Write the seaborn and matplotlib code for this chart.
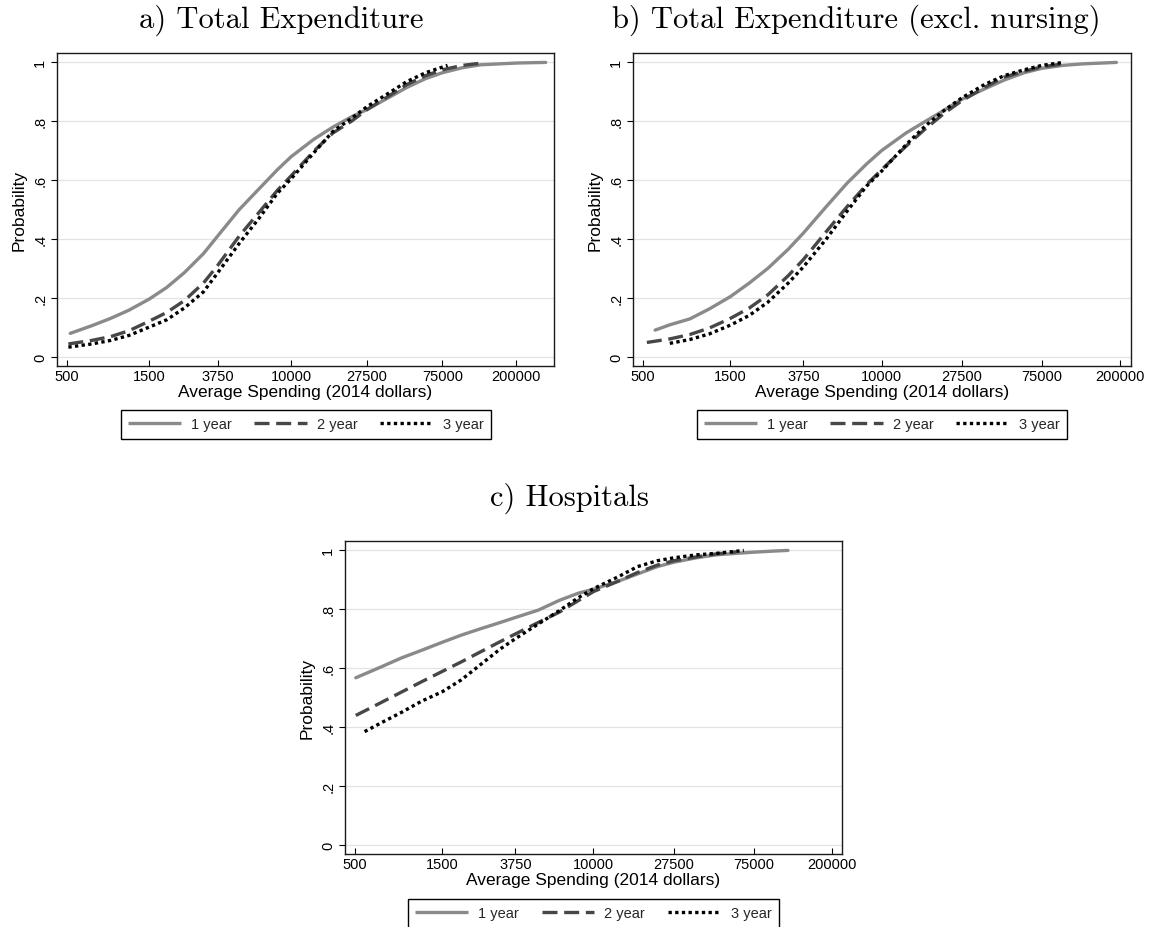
import numpy as np
import pandas as pd
import matplotlib
matplotlib.use("Agg")
import matplotlib.pyplot as plt
import seaborn as sns
from matplotlib.lines import Line2D
from matplotlib.ticker import NullLocator

# ---------------- data ----------------
SERIES = ["1 year", "2 year", "3 year"]
X_TICKS = [500, 1500, 3750, 10000, 27500, 75000, 200000]
X_TICK_LABELS = ["500", "1500", "3750", "10000", "27500", "75000", "200000"]
Y_TICKS = [0, 0.2, 0.4, 0.6, 0.8, 1.0]
Y_TICK_LABELS = ["0", ".2", ".4", ".6", ".8", "1"]

# a) Total Expenditure
A_X_1 = [525, 700, 900, 1150, 1500, 1900, 2400, 3100, 3750, 5000, 6500, 8300, 10000,
         13600, 17400, 22300, 27500, 36500, 46700, 60000, 75000, 98000, 125000, 205000, 297000]
A_Y_1 = [0.079, 0.105, 0.13, 0.158, 0.195, 0.235, 0.285, 0.35, 0.41, 0.50, 0.57, 0.635, 0.68,
         0.74, 0.78, 0.815, 0.84, 0.88, 0.915, 0.945, 0.965, 0.982, 0.992, 0.998, 1.0]
A_X_2 = [512, 700, 900, 1150, 1500, 1900, 2400, 3100, 3750, 5000, 6500, 8300, 10000,
         13600, 17400, 22300, 27500, 36500, 46700, 60000, 75000, 98000, 128000]
A_Y_2 = [0.043, 0.055, 0.068, 0.088, 0.12, 0.15, 0.19, 0.25, 0.31, 0.41, 0.49, 0.565, 0.615,
         0.70, 0.76, 0.80, 0.84, 0.885, 0.925, 0.955, 0.975, 0.99, 0.998]
A_X_3 = [512, 700, 900, 1150, 1500, 1900, 2400, 3100, 3750, 5000, 6500, 8300, 10000,
         13600, 17400, 22300, 27500, 36500, 46700, 60000, 80300]
A_Y_3 = [0.032, 0.043, 0.055, 0.072, 0.10, 0.125, 0.165, 0.22, 0.285, 0.385, 0.47, 0.555, 0.605,
         0.695, 0.765, 0.81, 0.85, 0.895, 0.935, 0.965, 0.99]

# b) Total Expenditure (excl. nursing)
B_X_1 = [582, 700, 900, 1150, 1500, 1900, 2400, 3100, 3750, 5000, 6500, 8300, 10000,
         13600, 17400, 22300, 27500, 36500, 46700, 60000, 75000, 98000, 125000, 191000]
B_Y_1 = [0.09, 0.108, 0.128, 0.162, 0.204, 0.25, 0.30, 0.365, 0.42, 0.51, 0.59, 0.655, 0.70,
         0.76, 0.80, 0.84, 0.875, 0.91, 0.94, 0.965, 0.98, 0.99, 0.995, 1.0]
B_X_2 = [525, 700, 900, 1150, 1500, 1900, 2400, 3100, 3750, 5000, 6500, 8300, 10000,
         13600, 17400, 22300, 27500, 36500, 46700, 60000, 75000, 98000]
B_Y_2 = [0.048, 0.06, 0.075, 0.097, 0.13, 0.165, 0.21, 0.275, 0.33, 0.425, 0.51, 0.585, 0.635,
         0.715, 0.775, 0.83, 0.87, 0.915, 0.95, 0.97, 0.985, 0.995]
B_X_3 = [700, 900, 1150, 1500, 1900, 2400, 3100, 3750, 5000, 6500, 8300, 10000,
         13600, 17400, 22300, 27500, 36500, 46700, 60000, 75000, 98000]
B_Y_3 = [0.045, 0.058, 0.077, 0.107, 0.14, 0.185, 0.25, 0.305, 0.40, 0.495, 0.58, 0.63,
         0.72, 0.785, 0.84, 0.88, 0.925, 0.955, 0.975, 0.99, 1.0]

# c) Hospitals
C_X_1 = [505, 700, 900, 1150, 1500, 1900, 2400, 3100, 3750, 5000, 6500, 8300, 10000,
         13600, 17400, 22300, 27500, 36500, 46700, 60000, 75000, 98000, 115000]
C_Y_1 = [0.567, 0.605, 0.635, 0.66, 0.688, 0.712, 0.733, 0.755, 0.772, 0.797, 0.83, 0.855, 0.868,
         0.895, 0.92, 0.945, 0.96, 0.975, 0.985, 0.99, 0.994, 0.998, 1.0]
C_X_2 = [505, 700, 900, 1150, 1500, 1900, 2400, 3100, 3750, 5000, 6500, 8300, 10000,
         13600, 17400, 22300, 27500, 36500, 46700, 60000]
C_Y_2 = [0.439, 0.484, 0.519, 0.553, 0.589, 0.621, 0.654, 0.69, 0.716, 0.755, 0.79, 0.83, 0.86,
         0.895, 0.925, 0.95, 0.965, 0.978, 0.988, 0.995]
C_X_3 = [564, 700, 900, 1150, 1500, 1900, 2400, 3100, 3750, 5000, 6500, 8300, 10000,
         13600, 17400, 22300, 27500, 36500, 46700, 60000, 66000]
C_Y_3 = [0.384, 0.415, 0.45, 0.487, 0.52, 0.56, 0.61, 0.665, 0.70, 0.75, 0.795, 0.84, 0.87,
         0.91, 0.945, 0.965, 0.975, 0.985, 0.99, 0.997, 1.0]

TITLES = ["a) Total Expenditure", "b) Total Expenditure (excl. nursing)", "c) Hospitals"]

# ---------------- style ----------------
sns.set_theme(style="white")
plt.rcParams["font.family"] = ["Liberation Sans", "DejaVu Sans"]

PALETTE = {"1 year": "#8a8a8a", "2 year": "#474747", "3 year": "#000000"}
DASHES = {"1 year": "", "2 year": (4.5, 2.0), "3 year": (1.0, 1.0)}
LW = 2.4

W, H = 1151, 928
fig = plt.figure(figsize=(W / 100, H / 100), dpi=100)


def rect(l, t, r, b):
    return [l / W, 1 - b / H, (r - l) / W, (b - t) / H]


def frame(xs, ys):
    parts = []
    for s, x, y in zip(SERIES, xs, ys):
        parts.append(pd.DataFrame({"spending": x, "prob": y, "series": s}))
    return pd.concat(parts, ignore_index=True)


panels = [
    dict(df=frame([A_X_1, A_X_2, A_X_3], [A_Y_1, A_Y_2, A_Y_3]), title=TITLES[0],
         box=(57, 54, 554, 367), xlim=(440, 332000), tx=281, ty=20, leg=(121, 491, 411)),
    dict(df=frame([B_X_1, B_X_2, B_X_3], [B_Y_1, B_Y_2, B_Y_3]), title=TITLES[1],
         box=(633, 54, 1131, 367), xlim=(441, 229600), tx=856, ty=20, leg=(697, 1067, 411)),
    dict(df=frame([C_X_1, C_X_2, C_X_3], [C_Y_1, C_Y_2, C_Y_3]), title=TITLES[2],
         box=(345, 542, 842, 855), xlim=(441, 226800), tx=569, ty=498, leg=(408, 779, 900)),
]

for p in panels:
    ax = fig.add_axes(rect(*p["box"]))
    ax.set_xscale("log")
    sns.lineplot(data=p["df"], x="spending", y="prob", hue="series", style="series",
                 palette=PALETTE, dashes=DASHES, linewidth=LW, estimator=None,
                 legend=False, ax=ax)
    for ln in ax.get_lines():
        ln.set_dash_capstyle("butt")
        ln.set_solid_capstyle("round")
        ln.set_solid_joinstyle("round")
    ax.set_xlim(*p["xlim"])
    ax.set_ylim(-0.032, 1.032)
    ax.set_xticks(X_TICKS)
    ax.set_xticklabels(X_TICK_LABELS)
    ax.xaxis.set_minor_locator(NullLocator())
    ax.set_yticks(Y_TICKS)
    ax.set_yticklabels(Y_TICK_LABELS, rotation=90, va="center")
    ax.tick_params(axis="x", direction="in", length=4.5, width=0.8, pad=2,
                   labelsize=10.5, colors="black", bottom=True)
    ax.tick_params(axis="y", direction="out", length=4, width=0.8, pad=3,
                   labelsize=10.5, colors="black", left=True)
    ax.grid(axis="y", color="#e3e3e3", linewidth=0.9)
    ax.grid(axis="x", visible=False)
    ax.set_axisbelow(True)
    for sp in ax.spines.values():
        sp.set_color("#1a1a1a")
        sp.set_linewidth(1.0)
    ax.set_xlabel("Average Spending (2014 dollars)", fontsize=12.5, labelpad=1, color="black")
    ax.set_ylabel("Probability", fontsize=12.5, labelpad=5, color="black")

    fig.text(p["tx"] / W, 1 - p["ty"] / H, p["title"], family="cmr10", fontsize=22,
             ha="center", va="center", color="black")

    handles = []
    for s in SERIES:
        if DASHES[s] == "":
            h = Line2D([], [], color=PALETTE[s], lw=LW, solid_capstyle="butt")
        else:
            h = Line2D([], [], color=PALETTE[s], lw=LW, dashes=DASHES[s], dash_capstyle="butt")
        handles.append(h)
    lx0, lx1, ly0 = p["leg"]
    leg = ax.legend(handles, SERIES, ncol=3, loc="upper left",
                    bbox_to_anchor=(lx0 / W, 1 - ly0 / H, (lx1 - lx0) / W, 0),
                    bbox_transform=fig.transFigure, mode="expand", borderaxespad=0,
                    fontsize=10.5, handlelength=3.6, handletextpad=0.7, borderpad=0.5,
                    frameon=True, fancybox=False, framealpha=1, edgecolor="black")
    leg.get_frame().set_linewidth(1.0)

fig.savefig("out.png", dpi=100, facecolor="white")
